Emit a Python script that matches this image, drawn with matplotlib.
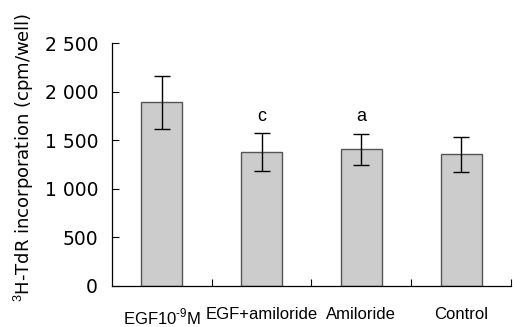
import numpy as np
import matplotlib
matplotlib.use("Agg")
import matplotlib.pyplot as plt
from matplotlib.ticker import FuncFormatter

plt.rcParams['font.family'] = ['DejaVu Sans']
plt.rcParams['mathtext.fontset'] = 'custom'
plt.rcParams['mathtext.rm'] = 'Liberation Sans'

categories = [r'EGF10$^{\text{-9}}$M', 'EGF+amiloride', 'Amiloride', 'Control']
values = [1890, 1375, 1405, 1355]
errors = [275, 195, 160, 180]
marks = ['', 'c', 'a', '']

fig = plt.figure(figsize=(5.13, 3.27), dpi=100)
ax = fig.add_axes([0.2183, 0.1254, 0.7777, 0.7431])

x = np.arange(len(categories))
ax.bar(x, values, width=0.41, color='#cccccc', edgecolor='#555555', linewidth=1.0)
ax.errorbar(x, values, yerr=errors, fmt='none', ecolor='black', elinewidth=1.0,
            capsize=6, capthick=1.0)

for xi, v, e, m in zip(x, values, errors, marks):
    if m:
        ax.text(xi, v + e + 90, m, ha='center', va='bottom', fontsize=13,
                family='Liberation Sans')

ax.set_xlim(-0.5, len(categories) - 0.5)
ax.set_ylim(0, 2500)
ax.set_yticks(np.arange(0, 2501, 500))
ax.yaxis.set_major_formatter(FuncFormatter(lambda v, p: f"{int(v):,}".replace(',', ' ')))
ax.tick_params(axis='y', direction='in', length=5, width=0.8, labelsize=13.5, pad=10)

# category boundary ticks
ax.set_xticks(np.arange(0.5, len(categories), 1.0))
ax.set_xticklabels([])
ax.set_xticks(x, minor=True)
ax.set_xticklabels(categories, minor=True)
for lab in ax.get_xticklabels(minor=True):
    lab.set_family('Liberation Sans')
ax.tick_params(axis='x', which='major', direction='in', length=5, width=0.8)
ax.tick_params(axis='x', which='minor', length=0, labelsize=12, pad=15)

ax.spines['top'].set_visible(False)
ax.spines['right'].set_visible(False)
ax.spines['left'].set_linewidth(0.9)
ax.spines['bottom'].set_linewidth(0.9)

ax.set_ylabel('$^{3}$H-TdR incorporation (cpm/well)', fontsize=13)
ax.yaxis.set_label_coords(-0.19, 0.53)

fig.savefig('out.png', dpi=100)
